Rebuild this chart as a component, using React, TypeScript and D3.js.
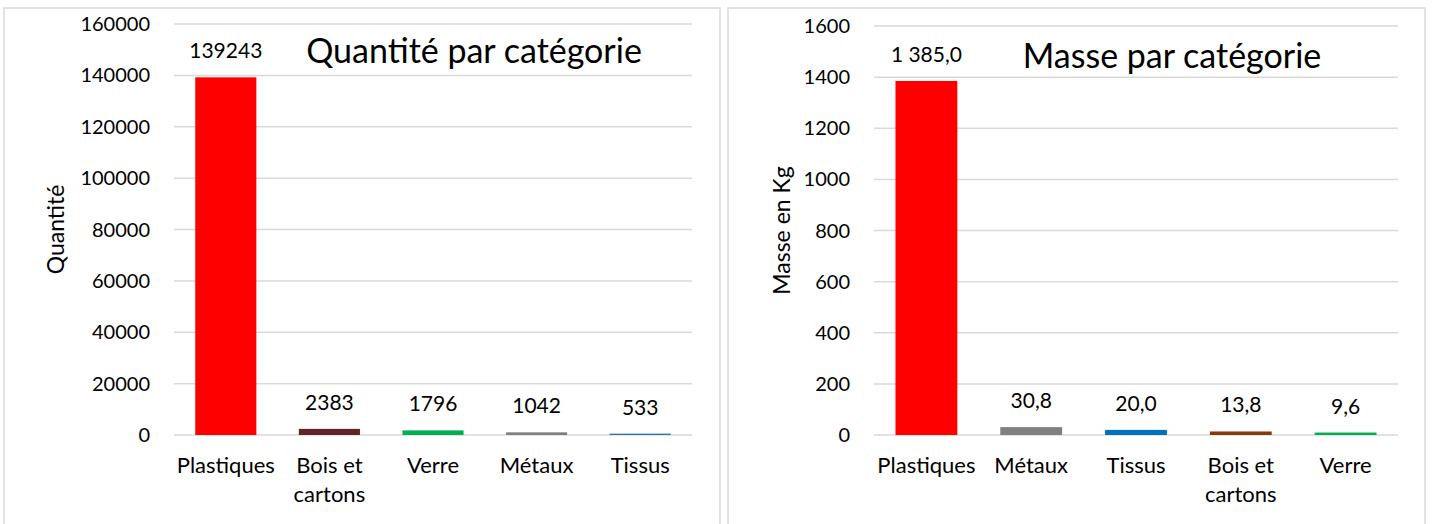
import React, { useEffect, useRef } from "react";
import * as d3 from "d3";

// Quantité par catégorie
const qtyCategories = ["Plastiques", "Bois et cartons", "Verre", "Métaux", "Tissus"];
const qtyValues = [139243, 2383, 1796, 1042, 533];
const qtyColors = ["#ff0000", "#632523", "#00b050", "#808080", "#2e75b6"];
const qtyTicks = [0, 20000, 40000, 60000, 80000, 100000, 120000, 140000, 160000];

// Masse par catégorie
const massCategories = ["Plastiques", "Métaux", "Tissus", "Bois et cartons", "Verre"];
const massValues = [1385.0, 30.8, 20.0, 13.8, 9.6];
const massColors = ["#ff0000", "#808080", "#0070c0", "#843c0c", "#00b050"];
const massTicks = [0, 200, 400, 600, 800, 1000, 1200, 1400, 1600];

const FONT = "Lato, 'Open Sans', sans-serif";

const frLocale = d3.formatLocale({
	decimal: ",",
	thousands: " ",
	grouping: [3],
	currency: ["", " €"],
});

const Panel = ({ frame, plot, categories, values, colors, ticks, yTitle, yTitleX, title, titlePos, labelFormat }) => {
	const ref = useRef(null);

	useEffect(() => {
		const g = d3.select(ref.current);
		g.selectAll("*").remove();

		// chart frame
		g.append("rect")
			.attr("x", frame.x)
			.attr("y", frame.y)
			.attr("width", frame.w)
			.attr("height", frame.h)
			.attr("fill", "#fff")
			.attr("stroke", "#d9d9d9")
			.attr("stroke-width", 1.5);

		const x = d3
			.scaleBand()
			.domain(categories)
			.range([plot.left, plot.right])
			.paddingInner(0.41)
			.paddingOuter(0.205);

		const y = d3
			.scaleLinear()
			.domain([ticks[0], ticks[ticks.length - 1]])
			.range([plot.bottom, plot.top]);

		// gridlines
		g.selectAll(".grid")
			.data(ticks)
			.enter()
			.append("line")
			.attr("x1", plot.left)
			.attr("x2", plot.right)
			.attr("y1", (d) => y(d))
			.attr("y2", (d) => y(d))
			.attr("stroke", "#d9d9d9")
			.attr("stroke-width", 1.5);

		// y tick labels
		g.selectAll(".ytick")
			.data(ticks)
			.enter()
			.append("text")
			.attr("x", plot.left - 24)
			.attr("y", (d) => y(d))
			.attr("dy", "0.35em")
			.attr("text-anchor", "end")
			.style("font-family", FONT)
			.style("font-size", "20px")
			.style("fill", "#000")
			.text((d) => String(d));

		// bars
		g.selectAll(".bar")
			.data(values)
			.enter()
			.append("rect")
			.attr("x", (d, i) => x(categories[i]))
			.attr("y", (d) => y(d))
			.attr("width", x.bandwidth())
			.attr("height", (d) => y(0) - y(d))
			.attr("fill", (d, i) => colors[i]);

		// value labels
		g.selectAll(".val")
			.data(values)
			.enter()
			.append("text")
			.attr("x", (d, i) => x(categories[i]) + x.bandwidth() / 2)
			.attr("y", (d) => y(d) - 19)
			.attr("text-anchor", "middle")
			.style("font-family", FONT)
			.style("font-size", "21px")
			.style("fill", "#000")
			.text((d) => labelFormat(d));

		// category labels (wrapped)
		const cat = g
			.selectAll(".cat")
			.data(categories)
			.enter()
			.append("text")
			.attr("text-anchor", "middle")
			.style("font-family", FONT)
			.style("font-size", "22px")
			.style("fill", "#000");
		cat.each(function (d) {
			const lines = d === "Bois et cartons" ? ["Bois et", "cartons"] : [d];
			const t = d3.select(this);
			lines.forEach((ln, k) => {
				t.append("tspan")
					.attr("x", x(d) + x.bandwidth() / 2)
					.attr("y", plot.bottom + 38 + k * 29)
					.text(ln);
			});
		});

		// y axis title
		g.append("text")
			.attr("transform", `translate(${yTitleX},${(plot.top + plot.bottom) / 2}) rotate(-90)`)
			.attr("text-anchor", "middle")
			.attr("dy", "0.35em")
			.style("font-family", FONT)
			.style("font-size", "23px")
			.style("fill", "#000")
			.text(yTitle);

		// chart title
		g.append("text")
			.attr("x", titlePos.x)
			.attr("y", titlePos.y)
			.attr("text-anchor", "middle")
			.style("font-family", FONT)
			.style("font-size", "34px")
			.style("fill", "#000")
			.text(title);
	}, []);

	return <g ref={ref}></g>;
};

const App = () => {
	return (
		<div style={{ position: "absolute", left: 0, top: 0, background: "#fff" }}>
			<svg width={1435} height={524} style={{ display: "block" }}>
				<rect width={1435} height={524} fill="#fff" />
				<Panel
					frame={{ x: 4, y: 8, w: 716, h: 540 }}
					plot={{ left: 174, right: 692, top: 24, bottom: 435 }}
					categories={qtyCategories}
					values={qtyValues}
					colors={qtyColors}
					ticks={qtyTicks}
					yTitle="Quantité"
					yTitleX={56}
					title="Quantité par catégorie"
					titlePos={{ x: 474, y: 63 }}
					labelFormat={(d) => String(d)}
				/>
				<Panel
					frame={{ x: 728, y: 8, w: 697, h: 540 }}
					plot={{ left: 874, right: 1398, top: 26, bottom: 435 }}
					categories={massCategories}
					values={massValues}
					colors={massColors}
					ticks={massTicks}
					yTitle="Masse en Kg"
					yTitleX={782}
					title="Masse par catégorie"
					titlePos={{ x: 1172, y: 68 }}
					labelFormat={frLocale.format(",.1f")}
				/>
			</svg>
		</div>
	);
};

export default App;
